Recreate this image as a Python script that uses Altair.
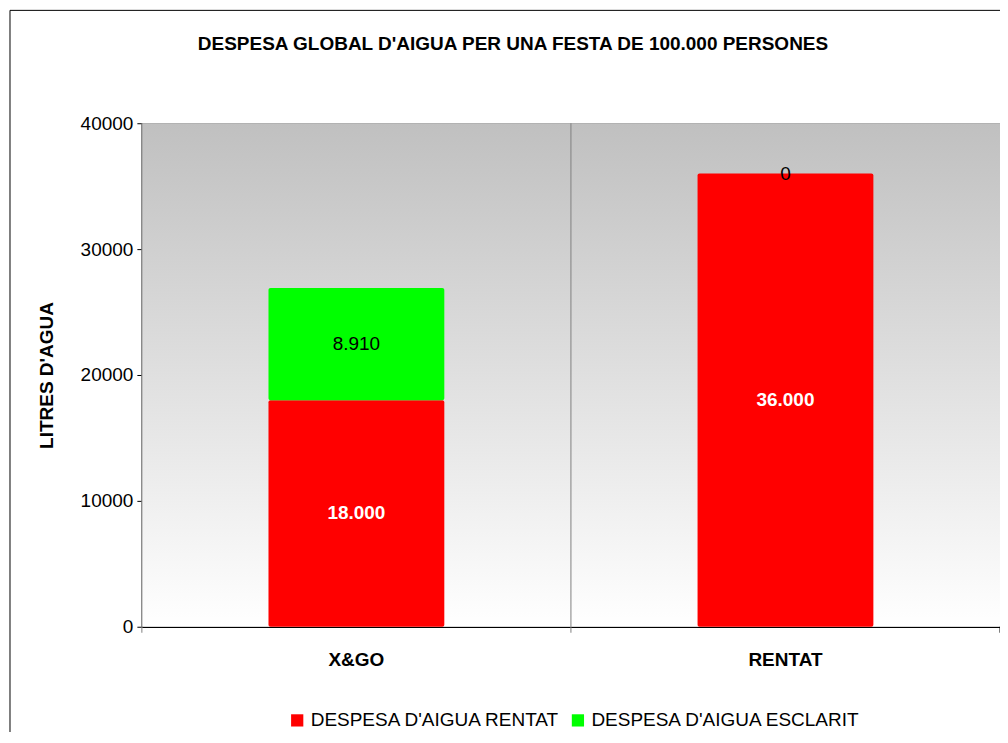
import altair as alt
import pandas as pd

categories = ["X&GO", "RENTAT"]
series = ["DESPESA D'AIGUA RENTAT", "DESPESA D'AIGUA ESCLARIT"]
rentat_values = [18000, 36000]
esclarit_values = [8910, 0]
colors = ["#ff0000", "#00ff00"]
y_ticks = [0, 10000, 20000, 30000, 40000]

rows = []
for i, c in enumerate(categories):
    for k, (s, vals) in enumerate(zip(series, [rentat_values, esclarit_values])):
        v = vals[i]
        rows.append({"cat": c, "serie": s, "ord": k, "value": v,
                     "label": f"{v:,}".replace(",", ".")})
df = pd.DataFrame(rows)

W, H = 859, 504
FONT = "Liberation Sans"

base = alt.Chart(df).transform_stack(
    stack="value", groupby=["cat"], as_=["y0", "y1"],
    sort=[alt.SortField("ord", order="ascending")]
).transform_calculate(mid="(datum.y0 + datum.y1) / 2")

xenc = alt.X("cat:N", sort=categories,
             scale=alt.Scale(paddingInner=0, paddingOuter=0),
             axis=alt.Axis(title=None, labelAngle=0, labelAlign="center",
                           labelFontSize=19, labelFontWeight="bold",
                           labelColor="black", ticks=False, labelPadding=33,
                           domainColor="black", domainWidth=1.5, grid=False))
yscale = alt.Scale(domain=[0, 40000], nice=False)

background = alt.Chart(pd.DataFrame({"a": [0]})).mark_rect(
    fill=alt.LinearGradient(gradient="linear", x1=0, y1=0, x2=0, y2=1,
                            stops=[alt.GradientStop(color="#c0c0c0", offset=0),
                                   alt.GradientStop(color="#ffffff", offset=1)])
).encode(x=alt.value(0), x2=alt.value("width"), y=alt.value(0), y2=alt.value("height"))

frame = alt.Chart(pd.DataFrame({"a": [0]})).mark_rect(
    fill=None, stroke="black", strokeWidth=1
).encode(x=alt.value(-132), x2=alt.value(1000), y=alt.value(-113), y2=alt.value(800))

bars = base.mark_bar(size=176, cornerRadius=2).encode(
    x=xenc,
    y=alt.Y("y0:Q", scale=yscale,
            axis=alt.Axis(values=y_ticks, format="d", labelFontSize=19,
                          labelColor="black", tickColor="black", tickSize=5,
                          labelPadding=4, domainColor="black", domainWidth=1.5,
                          grid=True,
                          gridColor={"condition": {"test": "datum.value === 40000", "value": "#808080"},
                                     "value": "#c0c0c0"},
                          title="LITRES D'AGUA", titleFontSize=19,
                          titleFontWeight="bold", titleColor="black",
                          titleX=-95, titleY=H / 2, titleAlign="center",
                          titleBaseline="middle", titleAngle=270)),
    y2="y1:Q",
    color=alt.Color("serie:N", scale=alt.Scale(domain=series, range=colors),
                    legend=alt.Legend(title=None, orient="none", direction="horizontal",
                                      legendX=146, legendY=588, symbolType="square",
                                      symbolSize=150, symbolStrokeWidth=0,
                                      labelFontSize=19, labelColor="black",
                                      labelLimit=500, columnPadding=8, labelOffset=4)),
)

sep = base.transform_filter("datum.ord == 0").mark_rule(color="#808080", strokeWidth=1).encode(
    x=alt.X("cat:N", sort=categories, bandPosition=0),
    y=alt.value(0), y2=alt.value(H + 6))

right_tick = base.transform_filter(f"datum.ord == 0 && datum.cat == '{categories[-1]}'").mark_rule(
    color="black", strokeWidth=1).encode(
    x=alt.X("cat:N", sort=categories, bandPosition=1),
    y=alt.value(H), y2=alt.value(H + 6))

lab_red = base.transform_filter("datum.ord == 0").mark_text(
    fontSize=19, fontWeight="bold", color="white", baseline="middle").encode(
    x=alt.X("cat:N", sort=categories), y=alt.Y("mid:Q", scale=yscale), text="label:N")

lab_green = base.transform_filter("datum.ord == 1").mark_text(
    fontSize=19, color="black", baseline="middle").encode(
    x=alt.X("cat:N", sort=categories), y=alt.Y("mid:Q", scale=yscale), text="label:N")

chart = alt.layer(background, frame, sep, bars, right_tick, lab_red, lab_green).properties(
    width=W, height=H,
    title=alt.TitleParams("DESPESA GLOBAL D'AIGUA PER UNA FESTA DE 100.000 PERSONES",
                          fontSize=19, fontWeight="bold", color="black",
                          anchor="middle", frame="group", dx=-58, offset=-44),
    autosize=alt.AutoSizeParams(type="none"),
    padding={"left": 134, "top": 115, "right": 0, "bottom": 105},
).configure(font=FONT).configure_view(stroke="#808080", strokeWidth=1)

chart.save("out.html", embed_options={"renderer": "svg", "actions": False})
